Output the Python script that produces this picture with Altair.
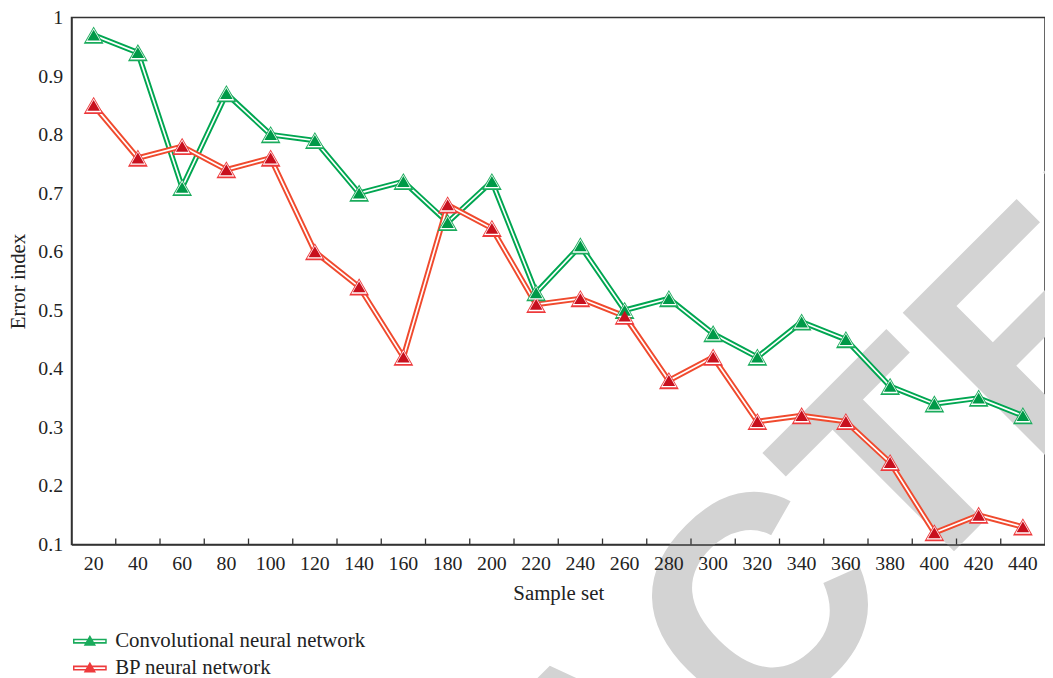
import altair as alt
import pandas as pd

samples = [20, 40, 60, 80, 100, 120, 140, 160, 180, 200, 220,
           240, 260, 280, 300, 320, 340, 360, 380, 400, 420, 440]
cnn = [0.97, 0.94, 0.71, 0.87, 0.80, 0.79, 0.70, 0.72, 0.65, 0.72, 0.53,
       0.61, 0.50, 0.52, 0.46, 0.42, 0.48, 0.45, 0.37, 0.34, 0.35, 0.32]
bp = [0.85, 0.76, 0.78, 0.74, 0.76, 0.60, 0.54, 0.42, 0.68, 0.64, 0.51,
      0.52, 0.49, 0.38, 0.42, 0.31, 0.32, 0.31, 0.24, 0.12, 0.15, 0.13]
series_names = ["Convolutional neural network", "BP neural network"]
y_ticks = [0.1, 0.2, 0.3, 0.4, 0.5, 0.6, 0.7, 0.8, 0.9, 1.0]
watermark_text = ["RETRACTED"]

line_colors = ["#00a651", "#f04a2e"]
outer_colors = ["#1aab5c", "#ee3a3c"]
inner_colors = ["#009a48", "#c8101e"]

cats = [str(s) for s in samples]
rows = []
for s, c, b in zip(cats, cnn, bp):
    rows.append({"sample": s, "series": series_names[0], "value": c})
    rows.append({"sample": s, "series": series_names[1], "value": b})
df = pd.DataFrame(rows)
tick_df = pd.DataFrame({"sample": cats[1:]})
wm_df = pd.DataFrame({"t": watermark_text})

FONT = "Liberation Serif"
W, H = 981, 531

xscale = alt.Scale(type="band", paddingInner=0, paddingOuter=0)
yscale = alt.Scale(domain=[0.1, 1.0], nice=False, zero=False)

x_axis = alt.Axis(title="Sample set", ticks=False, labelAngle=0, labelPadding=9,
                  titlePadding=9, domainColor="#333", domainWidth=1.5, zindex=1)
y_axis = alt.Axis(title="Error index", values=y_ticks, format="~g", ticks=False,
                  labelPadding=9, titlePadding=9, grid=False,
                  domainColor="#333", domainWidth=1.5, zindex=1)

X = alt.X("sample:N", sort=cats, scale=xscale, axis=x_axis)
Y = alt.Y("value:Q", scale=yscale, axis=y_axis)

base = alt.Chart(df)

watermark = alt.Chart(wm_df).mark_text(
    font="Liberation Sans", fontWeight="bold", fontSize=300, color="#d3d3d3",
    angle=315, align="center", baseline="alphabetic"
).encode(text="t:N", x=alt.value(610), y=alt.value(817))

layers = [watermark]
for i, name in enumerate(series_names):
    sub = base.transform_filter(alt.datum.series == name)
    layers.append(sub.mark_line(strokeWidth=5.6, color=line_colors[i]).encode(x=X, y=Y))
    layers.append(sub.mark_line(strokeWidth=1.7, color="white").encode(x=X, y=Y))

legend_path = ("M-1.7,-0.26L1.7,-0.26L1.7,0.26L-1.7,0.26Z "
               "M-1.55,-0.09L-1.55,0.09L1.55,0.09L1.55,-0.09Z "
               "M0,-0.62L0.62,0.45L-0.62,0.45Z")

tri_outer = base.mark_point(shape="triangle-up", filled=True, size=400, opacity=1).encode(
    x=X, y=Y,
    fill=alt.Fill("series:N", scale=alt.Scale(domain=series_names, range=outer_colors),
                  legend=alt.Legend(title=None, orient="none", legendX=8, legendY=618,
                                    symbolType=legend_path, symbolSize=400,
                                    symbolStrokeWidth=0, symbolOpacity=1, labelOffset=15,
                                    rowPadding=5, labelFont=FONT, labelFontSize=21,
                                    labelColor="#222", labelLimit=500)),
)
layers.append(tri_outer)
layers.append(base.mark_point(shape="triangle-up", filled=True, size=250, opacity=1,
                              color="white").encode(x=X, y=Y))
for i, name in enumerate(series_names):
    sub = base.transform_filter(alt.datum.series == name)
    layers.append(sub.mark_point(shape="triangle-up", filled=True, size=160, opacity=1,
                                 color=inner_colors[i]).encode(x=X, y=Y))

ticks = alt.Chart(tick_df).mark_rule(color="#333", strokeWidth=1.3).encode(
    x=alt.X("sample:N", sort=cats, scale=xscale, bandPosition=0, axis=x_axis),
    y=alt.value(H),
    y2=alt.value(H - 6),
)
layers.append(ticks)

chart = alt.layer(*layers).properties(
    width=W, height=H,
    autosize=alt.AutoSizeParams(type="none"),
    padding={"left": 64, "top": 7, "right": 0, "bottom": 140},
).configure(
    font=FONT
).configure_view(
    stroke="#333", strokeWidth=1.5
).configure_axis(
    labelFont=FONT, titleFont=FONT, labelFontSize=20, titleFontSize=21,
    labelColor="#222", titleColor="#222", titleFontWeight="normal"
).configure_legend(
    labelFont=FONT
)

chart.save("out.html", embed_options={"renderer": "svg", "actions": False})
